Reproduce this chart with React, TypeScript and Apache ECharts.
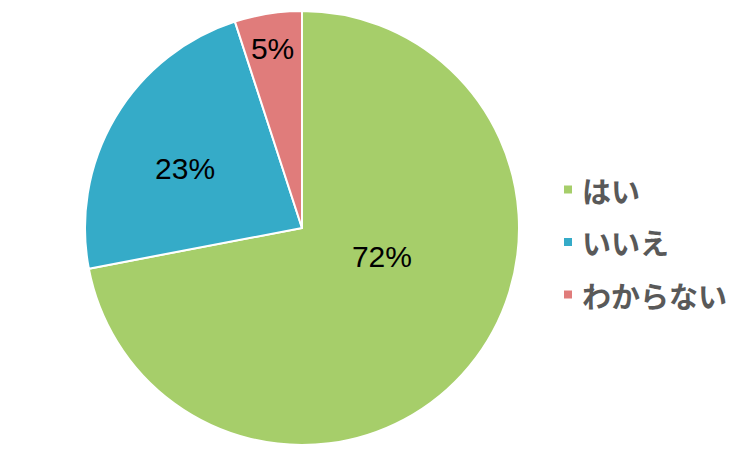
import React, { useEffect, useRef } from "react";
import * as echarts from "echarts";

const categories = ["はい", "いいえ", "わからない"];
const values = [72, 23, 5];
const colors = ["#A6CE6A", "#35ABC8", "#E07C7B"];
const labelOffsets: [number, number][] = [[-6, -43], [-21, -3], [-12, -69]];

export default function App() {
  const ref = useRef<HTMLDivElement>(null);
  useEffect(() => {
    const chart = echarts.init(ref.current!, undefined, { renderer: "svg" });
    chart.setOption({
      animation: false,
      backgroundColor: "#ffffff",
      legend: {
        orient: "vertical",
        left: 557,
        top: 170,
        itemWidth: 10,
        itemHeight: 10,
        itemGap: 23.5,
        icon: "rect",
        textStyle: {
          fontFamily: "Noto Sans CJK JP",
          fontSize: 29,
          fontWeight: "bold",
          color: "#595959",
          padding: [0, 0, 0, 4],
        },
        data: categories,
      },
      series: [
        {
          type: "pie",
          center: [302, 228],
          radius: 217,
          startAngle: 90,
          clockwise: true,
          itemStyle: { borderColor: "#ffffff", borderWidth: 2 },
          label: {
            position: "inside",
            formatter: "{c}%",
            fontFamily: "Liberation Sans",
            fontSize: 30,
            color: "#000000",
          },
          labelLine: { show: false },
          emphasis: { disabled: true },
          data: categories.map((name, i) => ({
            name,
            value: values[i],
            itemStyle: { color: colors[i] },
            label: { offset: labelOffsets[i] },
          })),
        },
      ],
    });
    return () => chart.dispose();
  }, []);
  return (
    <div
      ref={ref}
      style={{ position: "fixed", left: 0, top: 0, width: 742, height: 466 }}
    />
  );
}
